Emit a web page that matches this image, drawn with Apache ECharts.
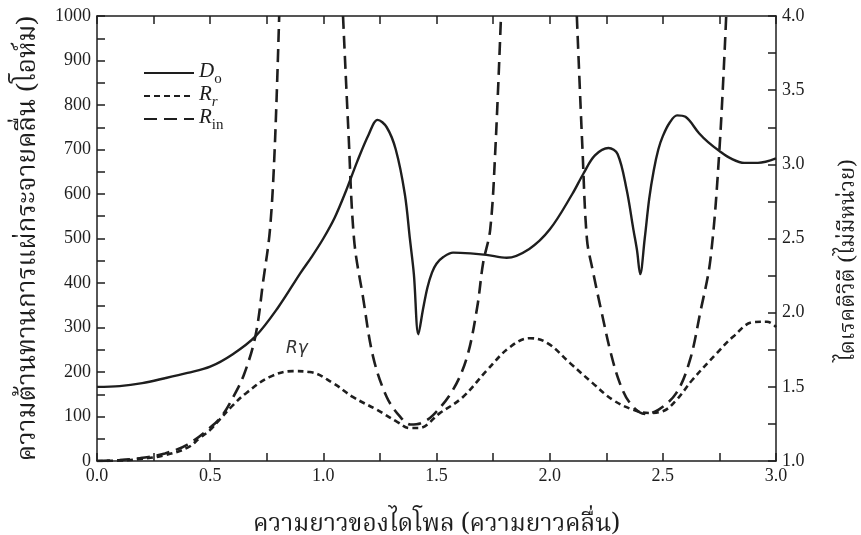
<!DOCTYPE html>
<html><head><meta charset="utf-8">
<script src="https://cdn.jsdelivr.net/npm/echarts@6/dist/echarts.min.js"></script>
<style>html,body{margin:0;padding:0;background:#fff}#c{width:861px;height:535px}</style>
</head><body><div id="c"></div>
<script>
// Directivity D_o (right axis, dimensionless)
const doX = [0,0.1,0.2,0.3,0.4,0.5,0.6,0.7,0.8,0.9,0.95,1.0,1.05,1.1,1.15,1.2,1.24,1.28,1.32,1.36,1.383,1.40,1.42,1.44,1.46,1.48,1.50,1.53,1.573,1.65,1.72,1.81,1.91,2.0,2.1,2.15,2.2,2.26,2.3,2.34,2.37,2.386,2.40,2.42,2.44,2.46,2.48,2.50,2.53,2.563,2.6,2.66,2.70,2.75,2.80,2.86,2.92,3.0];
const doY = [1.50,1.505,1.525,1.558,1.594,1.636,1.72,1.84,2.035,2.27,2.38,2.50,2.64,2.82,3.02,3.20,3.30,3.25,3.10,2.80,2.49,2.26,1.855,2.02,2.17,2.27,2.33,2.375,2.405,2.40,2.39,2.37,2.43,2.56,2.80,2.94,3.06,3.11,3.07,2.83,2.56,2.42,2.26,2.50,2.77,2.96,3.10,3.19,3.28,3.33,3.32,3.21,3.15,3.09,3.04,3.01,3.01,3.04];
// Radiation resistance R_r (left axis, ohm)
const rrX = [0,0.1,0.2,0.3,0.4,0.455,0.5,0.54,0.6,0.66,0.764,0.866,0.94,1.043,1.13,1.237,1.326,1.383,1.42,1.516,1.617,1.723,1.825,1.913,1.99,2.09,2.19,2.28,2.37,2.44,2.5,2.56,2.63,2.74,2.81,2.90,2.96,3.0];
const rrY = [0,1,5,13,30,52,70,92,125,153,189,202,200,175,144,115,88,74,74,108,144,204,256,276,265,220,175,137,115,108,112,137,182,243,279,312,313,301];
// Input resistance R_in (left axis, ohm); null = branch break (off scale)
const rinX = [0,0.1,0.2,0.3,0.4,0.5,0.55,0.6,0.65,0.7,0.735,0.764,0.785,0.805,0.95,1.087,1.11,1.136,1.175,1.22,1.28,1.34,1.385,1.43,1.485,1.573,1.635,1.68,1.706,1.737,1.76,1.785,1.95,2.12,2.145,2.165,2.19,2.23,2.27,2.31,2.355,2.42,2.48,2.56,2.62,2.665,2.71,2.75,2.78];
const rinY = [0,2,7,17,37,75,100,142,195,281,407,519,700,1000,null,1000,750,497,369,234,144,99,82,85,103,160,234,346,445,519,700,1000,null,1000,700,497,429,333,243,175,130,106,115,153,227,333,452,699,1000];

const names = ['Do','Rr','Rin'];
const xTicks = {min:0, max:3, interval:0.25};
const leftTicks = {min:0, max:1000, interval:50};
const rightTicks = {min:1, max:4, interval:0.25};

const pair = (xs, ys) => xs.map((x,i) => [x, ys[i] === null ? '-' : ys[i]]);
const ink = '#1e1e1e';
const serif = '"Liberation Serif","DejaVu Serif",serif';
const thai = '"Noto Serif Thai","Noto Sans Thai","Loma","Garuda",sans-serif';
const mkLine = () => ({show:true, onZero:false, lineStyle:{color:ink, width:1.5}});
const mkTick = () => ({show:true, inside:true, length:8, lineStyle:{color:ink, width:1.5}});
const chart = echarts.init(document.getElementById('c'), null, {renderer:'canvas'});
chart.setOption({
  backgroundColor:'#fff',
  animation:false,
  grid:{left:97, right:85, top:16, bottom:74, outerBoundsMode:'none', containLabel:false},
  legend:{
    orient:'vertical', left:138, top:56, itemWidth:50, itemHeight:14, itemGap:-3,
    data:names,
    itemStyle:{opacity:0},
    formatter: n => n==='Do' ? '{i|D}{s|o}' : (n==='Rr' ? '{i|R}{si|r}' : '{i|R}{s|in}'),
    textStyle:{color:ink, rich:{
      i:{fontFamily:serif, fontStyle:'italic', fontSize:21, lineHeight:18, color:ink, verticalAlign:'bottom'},
      s:{fontFamily:serif, fontSize:15, lineHeight:18, color:ink, verticalAlign:'bottom', padding:[0,0,-5,0]},
      si:{fontFamily:serif, fontStyle:'italic', fontSize:15, lineHeight:18, color:ink, verticalAlign:'bottom', padding:[0,0,-5,0]}
    }}
  },
  xAxis:[
    {type:'value', position:'bottom', ...xTicks,
      name:'ความยาวของไดโพล (ความยาวคลื่น)', nameLocation:'middle', nameGap:53,
      nameTextStyle:{fontSize:24.5, color:ink, fontFamily:thai},
      axisLine:mkLine(), splitLine:{show:false}, axisTick:mkTick(),
      axisLabel:{color:ink, fontSize:18, fontFamily:serif, margin:6,
        formatter:v => (Math.round(v*100)%50===0) ? v.toFixed(1) : ''}},
    {type:'value', position:'top', ...xTicks, axisLabel:{show:false},
      axisLine:mkLine(), splitLine:{show:false}, axisTick:mkTick()}
  ],
  yAxis:[
    {type:'value', position:'left', ...leftTicks,
      name:'ความต้านทานการแผ่กระจายคลื่น (โอห์ม)', nameLocation:'middle', nameGap:50, nameRotate:90,
      nameTextStyle:{fontSize:26, color:ink, fontFamily:thai},
      axisLine:mkLine(), splitLine:{show:false}, axisTick:mkTick(),
      axisLabel:{color:ink, fontSize:18, fontFamily:serif, margin:6,
        formatter:v => (v%100===0) ? String(v) : ''}},
    {type:'value', position:'right', ...rightTicks,
      name:'ไดเรคติวิตี (ไม่มีหน่วย)', nameLocation:'middle', nameGap:63, nameRotate:90,
      nameTextStyle:{fontSize:22, color:ink, fontFamily:thai, padding:[0,44,0,0]},
      axisLine:mkLine(), splitLine:{show:false}, axisTick:mkTick(),
      axisLabel:{color:ink, fontSize:18, fontFamily:serif, margin:6,
        formatter:v => (Math.round(v*100)%50===0) ? v.toFixed(1) : ''}}
  ],
  graphic:[{type:'text', left:286, top:340, style:{text:'Rγ', font:'italic 17px "DejaVu Sans"', fill:'#333'}}],
  series:[
    {name:'Do', type:'line', yAxisIndex:1, data:pair(doX, doY), smooth:0.35, symbol:'none',
     lineStyle:{color:ink, width:2.4, type:'solid'}, itemStyle:{color:ink}, clip:true},
    {name:'Rr', type:'line', yAxisIndex:0, data:pair(rrX, rrY), smooth:0.4, symbol:'none',
     lineStyle:{color:ink, width:2.6, type:[6,4]}, itemStyle:{color:ink}, clip:true},
    {name:'Rin', type:'line', yAxisIndex:0, data:pair(rinX, rinY), smooth:0.35, symbol:'none',
     connectNulls:false,
     lineStyle:{color:ink, width:2.6, type:[13,7]}, itemStyle:{color:ink}, clip:true}
  ]
});
</script></body></html>
